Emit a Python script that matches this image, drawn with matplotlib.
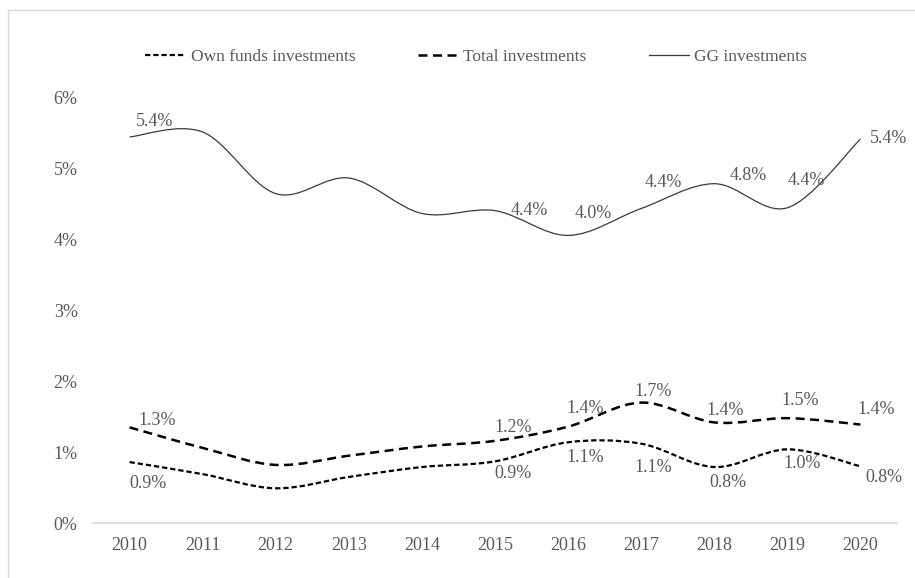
import matplotlib
matplotlib.use('Agg')
import matplotlib.pyplot as plt
from matplotlib.path import Path
from matplotlib.patches import PathPatch
from matplotlib.lines import Line2D

plt.rcParams['font.family'] = ['Liberation Serif', 'DejaVu Serif']

# ---------------------- data ----------------------
years = ['2010', '2011', '2012', '2013', '2014', '2015',
         '2016', '2017', '2018', '2019', '2020']
own_funds = [0.86, 0.69, 0.49, 0.65, 0.79, 0.87, 1.14, 1.12, 0.79, 1.04, 0.80]
total_inv = [1.35, 1.06, 0.82, 0.95, 1.08, 1.16, 1.36, 1.70, 1.42, 1.48, 1.39]
gg_inv = [5.45, 5.52, 4.65, 4.87, 4.37, 4.41, 4.06, 4.44, 4.79, 4.45, 5.42]

# labels shown on the chart (None = no label)
own_labels = ['0.9%', None, None, None, None, '0.9%', '1.1%', '1.1%', '0.8%', '1.0%', '0.8%']
total_labels = ['1.3%', None, None, None, None, '1.2%', '1.4%', '1.7%', '1.4%', '1.5%', '1.4%']
gg_labels = ['5.4%', None, None, None, None, '4.4%', '4.0%', '4.4%', '4.8%', '4.4%', '5.4%']

# label offsets in pixels (dx, dy)
own_off = [(18, -21), None, None, None, None, (18, -12), (17, -15), (12, -24), (14, -15), (15, -14), (23, -11)]
total_off = [(28, 7), None, None, None, None, (18, 13), (17, 18), (12, 11), (11, 12), (13, 18), (16, 15)]
gg_off = [(25, 15), None, None, None, None, (34, 0), (25, 22), (22, 26), (34, 8), (19, 27), (28, 1)]

grey = '#595959'


def smooth_path(xs, ys):
    # Excel-like smoothed line: Catmull-Rom converted to cubic Bezier
    n = len(xs)
    verts = [(xs[0], ys[0])]
    codes = [Path.MOVETO]
    for i in range(n - 1):
        x0, y0 = (xs[i - 1], ys[i - 1]) if i > 0 else (xs[i], ys[i])
        x1, y1 = xs[i], ys[i]
        x2, y2 = xs[i + 1], ys[i + 1]
        x3, y3 = (xs[i + 2], ys[i + 2]) if i + 2 < n else (x2, y2)
        c1 = (x1 + (x2 - x0) / 6, y1 + (y2 - y0) / 6)
        c2 = (x2 - (x3 - x1) / 6, y2 - (y3 - y1) / 6)
        verts += [c1, c2, (x2, y2)]
        codes += [Path.CURVE4] * 3
    return Path(verts, codes)


fig = plt.figure(figsize=(9.15, 5.78), dpi=100)
ax = fig.add_axes([93 / 915, 1 - 523 / 578, 804 / 915, 425 / 578])

x = list(range(len(years)))

styles = [
    (own_funds, dict(color='black', lw=1.6, ls=(0, (2.4, 1.3))), own_labels, own_off, 'Own funds investments'),
    (total_inv, dict(color='black', lw=1.8, ls=(0, (3.6, 2.2))), total_labels, total_off, 'Total investments'),
    (gg_inv, dict(color='#3a3a3a', lw=0.9, ls='-'), gg_labels, gg_off, 'GG investments'),
]

handles = []
for vals, st, labs, offs, name in styles:
    patch = PathPatch(smooth_path(x, vals), fill=False, edgecolor=st['color'],
                      linewidth=st['lw'], linestyle=st['ls'], capstyle='butt')
    ax.add_patch(patch)
    handles.append(Line2D([], [], color=st['color'], lw=st['lw'], ls=st['ls'], label=name))
    for xi, v, lab, off in zip(x, vals, labs, offs):
        if lab is None:
            continue
        ax.annotate(lab, (xi, v), xytext=off, textcoords='offset pixels',
                    ha='center', va='center', fontsize=13, color=grey)

ax.set_xlim(-0.5, len(years) - 0.5)
ax.set_ylim(0, 6)
ax.set_xticks(x)
ax.set_xticklabels(years)
ax.set_yticks(range(7))
ax.set_yticklabels([f'{i}%' for i in range(7)])
ax.tick_params(axis='both', length=0, labelsize=13, labelcolor=grey)
ax.tick_params(axis='x', pad=10)
ax.tick_params(axis='y', pad=11)
for s in ['top', 'right', 'left']:
    ax.spines[s].set_visible(False)
ax.spines['bottom'].set_color('#d9d9d9')
ax.spines['bottom'].set_linewidth(1.2)

leg = fig.legend(handles=handles, loc='center', bbox_to_anchor=(476 / 915, 1 - 57 / 578),
                 ncol=3, frameon=False, fontsize=12.5, handlelength=2.3,
                 handletextpad=0.3, columnspacing=3.6)
for t in leg.get_texts():
    t.set_color(grey)

# outer chart frame (top and left edges visible)
fig.add_artist(Line2D([8 / 915, 1], [1 - 10 / 578, 1 - 10 / 578], transform=fig.transFigure,
                      color='#d9d9d9', lw=1))
fig.add_artist(Line2D([8 / 915, 8 / 915], [0, 1 - 10 / 578], transform=fig.transFigure,
                      color='#d9d9d9', lw=1))

fig.savefig('out.png', dpi=100)
